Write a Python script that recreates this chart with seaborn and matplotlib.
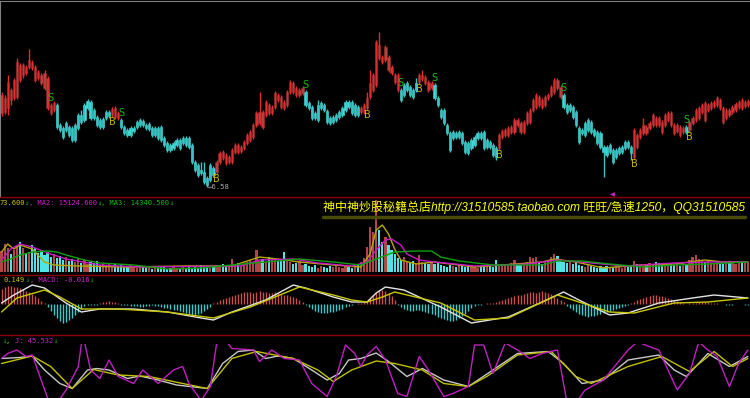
"""
Stock chart: trend-coloured candles with B/S signals, volume, MACD and KDJ panes.
"""
import numpy as np
import matplotlib
matplotlib.use("Agg")
import matplotlib.pyplot as plt
from matplotlib.lines import Line2D
import seaborn as sns

W, H = 750, 398

# prices in fen (1/100 yuan)
opens = [732, 733, 737, 755, 747, 748, 780, 770, 778, 778,
         783, 778, 773, 770, 772, 767, 740, 735, 740, 720,
         717, 715, 718, 717, 705, 717, 730, 725, 737, 743,
         735, 728, 725, 718, 727, 729, 730, 737, 732, 725,
         718, 715, 710, 714, 718, 720, 724, 720, 716, 717,
         710, 717, 718, 707, 702, 700, 697, 700, 705, 702,
         707, 707, 700, 683, 680, 675, 673, 667, 665, 677,
         673, 683, 693, 690, 683, 683, 693, 700, 694, 697,
         702, 705, 708, 720, 722, 733, 730, 740, 732, 738,
         750, 748, 743, 740, 753, 762, 757, 750, 752, 753,
         742, 738, 732, 725, 737, 740, 734, 727, 723, 725,
         728, 730, 735, 743, 743, 730, 738, 733, 733, 737,
         748, 755, 760, 800, 788, 785, 788, 778, 770, 770,
         755, 750, 755, 758, 755, 755, 763, 766, 768, 763,
         757, 760, 747, 735, 735, 720, 712, 707, 712, 708,
         712, 703, 702, 697, 700, 707, 712, 713, 698, 703,
         700, 697, 697, 708, 710, 710, 713, 713, 725, 722,
         713, 722, 723, 735, 738, 748, 745, 740, 747, 750,
         753, 765, 758, 750, 740, 735, 738, 733, 717, 715,
         710, 715, 723, 715, 713, 712, 698, 698, 693, 695,
         688, 692, 693, 697, 703, 698, 688, 710, 708, 712,
         718, 717, 720, 727, 727, 723, 720, 725, 732, 720,
         714, 718, 713, 718, 715, 722, 725, 727, 733, 742,
         735, 737, 739, 740, 745, 737, 727, 735, 733, 735,
         738, 745, 739, 740]
closes = [750, 747, 763, 745, 765, 783, 765, 780, 772, 785,
          777, 765, 767, 762, 757, 737, 732, 742, 718, 715,
          708, 722, 710, 705, 720, 730, 723, 740, 744, 727,
          727, 720, 718, 726, 733, 733, 736, 728, 727, 718,
          712, 710, 717, 717, 723, 725, 720, 717, 721, 710,
          717, 707, 705, 700, 695, 695, 702, 705, 697, 707,
          700, 698, 683, 675, 670, 672, 663, 660, 680, 670,
          683, 692, 687, 682, 688, 695, 700, 693, 698, 703,
          710, 713, 720, 732, 733, 718, 743, 732, 738, 752,
          745, 738, 737, 753, 763, 753, 750, 755, 757, 740,
          737, 727, 727, 740, 742, 735, 723, 722, 728, 730,
          733, 737, 743, 738, 732, 740, 730, 737, 740, 747,
          762, 770, 803, 787, 783, 798, 775, 772, 763, 755,
          745, 760, 762, 750, 748, 762, 770, 770, 762, 755,
          762, 747, 740, 728, 722, 712, 695, 713, 708, 713,
          702, 693, 692, 705, 708, 712, 707, 697, 705, 698,
          690, 688, 710, 714, 715, 717, 718, 725, 720, 713,
          723, 732, 735, 745, 750, 740, 738, 748, 750, 758,
          765, 757, 748, 738, 733, 740, 728, 720, 703, 712,
          722, 725, 713, 710, 702, 698, 693, 690, 700, 683,
          695, 697, 698, 703, 698, 692, 715, 698, 715, 720,
          712, 722, 730, 720, 720, 713, 730, 732, 720, 712,
          720, 710, 717, 713, 723, 727, 735, 737, 740, 725,
          740, 742, 743, 747, 737, 723, 735, 730, 738, 741,
          743, 737, 743, 744]
highs = [753, 750, 770, 757, 767, 787, 782, 782, 780, 796,
         785, 780, 775, 772, 775, 769, 742, 744, 742, 722,
         719, 724, 720, 719, 722, 732, 735, 742, 746, 745,
         737, 730, 727, 728, 735, 735, 738, 739, 734, 727,
         720, 717, 719, 719, 725, 727, 726, 722, 723, 719,
         719, 719, 720, 709, 704, 702, 704, 707, 707, 709,
         709, 709, 702, 685, 682, 683, 683, 669, 682, 679,
         685, 694, 695, 692, 690, 697, 702, 702, 700, 705,
         712, 715, 722, 734, 753, 735, 745, 742, 740, 754,
         752, 750, 745, 755, 765, 764, 759, 757, 759, 755,
         744, 740, 734, 745, 744, 742, 736, 729, 730, 732,
         735, 739, 745, 745, 745, 742, 740, 739, 742, 753,
         775, 772, 805, 813, 790, 800, 790, 780, 772, 772,
         757, 762, 764, 760, 757, 767, 772, 775, 770, 765,
         764, 762, 749, 737, 737, 722, 714, 715, 714, 715,
         714, 705, 704, 707, 710, 714, 714, 715, 707, 705,
         702, 699, 712, 716, 717, 719, 720, 727, 727, 724,
         725, 734, 737, 747, 752, 750, 747, 750, 752, 760,
         767, 767, 760, 752, 742, 742, 740, 735, 719, 717,
         724, 727, 725, 717, 715, 714, 700, 700, 702, 697,
         697, 699, 700, 705, 705, 700, 717, 712, 717, 727,
         720, 724, 732, 729, 729, 725, 732, 734, 734, 722,
         722, 720, 719, 720, 725, 729, 737, 739, 742, 744,
         742, 744, 745, 749, 747, 739, 737, 737, 740, 743,
         745, 747, 745, 746]
lows = [729, 731, 730, 740, 745, 746, 763, 767, 770, 776,
        775, 763, 765, 760, 755, 735, 730, 733, 716, 713,
        706, 713, 708, 703, 703, 715, 721, 723, 735, 725,
        725, 718, 716, 716, 725, 727, 728, 726, 725, 716,
        710, 708, 708, 712, 716, 718, 718, 715, 714, 708,
        708, 705, 703, 698, 693, 693, 695, 698, 695, 700,
        698, 696, 681, 673, 668, 670, 661, 658, 663, 668,
        671, 681, 685, 680, 681, 681, 691, 691, 692, 695,
        700, 703, 706, 718, 720, 716, 728, 730, 730, 736,
        743, 736, 735, 738, 751, 751, 748, 748, 750, 738,
        735, 725, 725, 723, 735, 733, 721, 720, 721, 723,
        726, 728, 733, 736, 730, 728, 728, 731, 731, 735,
        746, 753, 758, 785, 781, 783, 773, 770, 761, 753,
        743, 748, 753, 748, 746, 753, 761, 764, 760, 753,
        755, 745, 738, 726, 720, 710, 693, 705, 706, 706,
        700, 691, 690, 695, 698, 705, 705, 695, 696, 696,
        688, 685, 695, 706, 708, 708, 711, 711, 718, 711,
        711, 720, 721, 733, 736, 738, 736, 738, 745, 748,
        751, 755, 746, 736, 731, 733, 726, 718, 701, 710,
        708, 713, 711, 708, 700, 696, 668, 688, 691, 681,
        686, 690, 691, 695, 696, 685, 686, 696, 706, 710,
        710, 715, 718, 718, 718, 711, 718, 723, 718, 710,
        712, 708, 711, 711, 713, 720, 723, 725, 731, 723,
        733, 735, 737, 738, 735, 721, 725, 728, 731, 733,
        736, 735, 737, 738]

# volume, thousand lots
volume = [21, 28, 24, 18, 22, 26, 30, 24, 18, 20, 27, 24, 19, 22, 17, 20, 15, 18, 14, 16,
          12, 15, 11, 13, 10, 14, 9, 12, 8, 10, 9, 11, 7, 8, 6, 9, 7, 8, 6, 7,
          5, 6, 7, 5, 4, 6, 5, 4, 6, 3, 5, 4, 6, 5, 3, 4, 5, 4, 3, 5,
          4, 6, 3, 5, 4, 7, 5, 6, 4, 5, 7, 6, 8, 5, 6, 13, 7, 9, 6, 8,
          10, 12, 9, 22, 11, 13, 10, 15, 12, 14, 11, 13, 20, 12, 10, 8, 9, 11, 7, 8,
          6, 5, 7, 4, 6, 5, 4, 6, 5, 7, 5, 4, 6, 5, 4, 6, 8,
          10, 14, 25, 45, 40, 72, 42, 30, 35, 27, 22, 18, 14, 12, 15, 10, 9, 11, 8,
          17, 10, 9, 8, 10, 8, 9, 7, 6, 5, 7, 6, 5, 8, 6, 5, 7, 6, 5, 4,
          6, 5, 7, 6, 5, 12, 6, 8, 7, 6, 9, 12, 8, 7, 9, 10, 15, 14, 15, 9,
          8, 10, 11, 15, 18, 16, 12, 10, 9, 11, 8, 10, 7, 6, 5, 7, 6, 5, 4, 6,
          5, 6, 4, 5, 6, 5, 4, 6, 5, 7, 11, 8, 7, 6, 8, 9, 8, 10, 9, 8,
          7, 8, 9, 7, 8, 6, 9, 8, 12, 15, 17, 13, 12, 10, 12, 9, 8, 10, 9, 8,
          10, 11, 9, 8, 10, 9, 11, 10]

# volume moving averages, read at sample bars (bar index, thousand lots)
ma1_idx = [0, 2, 4, 6, 10, 14, 17, 25, 40, 60, 75, 84, 90, 97, 108, 117, 120, 122, 124,
           126, 128, 130, 135, 141, 154, 176, 180, 187, 196, 208, 219, 229, 235, 243]
ma1_val = [20, 28, 23, 27, 23, 10, 7, 6, 5, 6, 6, 15, 13, 10, 7, 5, 18, 42, 47,
           38, 23, 12, 8, 10, 5, 10, 13, 10, 4, 7, 8, 12, 10, 10]
ma2_idx = [0, 3, 6, 10, 16, 21, 32, 45, 78, 84, 95, 103, 114, 119, 122, 125, 127, 130,
           132, 136, 141, 154, 171, 181, 192, 203, 219, 230, 243]
ma2_val = [12, 23, 28, 25, 18, 13, 7, 5, 6, 12, 13, 9, 6, 10, 22, 32, 33, 27,
           18, 12, 10, 6, 8, 12, 9, 6, 9, 10, 10]
ma3_idx = [0, 3, 6, 10, 15, 18, 21, 27, 32, 43, 54, 65, 75, 86, 97, 108, 117, 122, 128,
           135, 140, 143, 149, 160, 176, 181, 189, 198, 209, 219, 230, 243]
ma3_val = [10, 13, 17, 20, 21, 20, 17, 12, 9, 7, 3, 4, 7, 10, 13, 10, 7, 13, 20,
           21, 21, 15, 11, 7, 7, 11, 11, 8, 5, 7, 8, 10]

# MACD histogram per bar, in 1/1000
macd_bar = [375, 425, 450, 450, 425, 425, 400, 375, 325, 300, 250, 200, 150, 75, 25,
            -75, -175, -275, -350, -425, -475, -450, -400, -350, -275, -200, -125, -50,
            -25, -25, -25, -25, 25, 50, 50, 75, 50, 50, 25, -25, -25, -25, -50,
            -50, -50, -75, -75, -50, -50, -25, -50, -50, -75, -100, -100, -125, -150, -150,
            -175, -200, -225, -250, -275, -275, -250, -225, -175, -125, -75,
            25, 50, 100, 125, 150, 175, 200, 225, 250, 275, 300, 300, 300, 275, 300,
            325, 300, 300, 275, 275, 300, 275, 250, 225, 225, 200, 175, 150, 100, 50,
            -25, -75, -125, -175, -200, -225, -225, -225, -200, -200, -175, -150, -125, -75,
            -50, -25, 0, 25, 25, 50, 75, 125, 200,
            275, 350, 350, 325, 275, 200, 100,
            -25, -75, -125, -150, -175, -175, -150, -150, -175, -200, -225, -250, -275,
            -325, -350, -375, -400, -425, -425, -400, -350, -300, -250, -175, -100, -50,
            -25, -25, 0, 25, 25, 25, 50, 75,
            100, 125, 150, 175, 200, 225, 225, 250, 275, 300, 300, 275, 300, 325, 300,
            275, 250, 200, 150, 100, 50,
            -50, -100, -150, -200, -250, -275, -300, -325, -300, -300, -275, -250, -225,
            -200, -175, -150, -125, -100, -75, -50, -25,
            25, 50, 100, 125, 150, 175, 200, 225, 225, 200, 200, 175, 150, 125, 100, 75, 50, 25,
            0, 25, 25, 25, 50, 50, 50, 50, 25, 25, 25, 0, 0, -25, -25, -25, 0, 0, 0, -25, -25]
dif_idx = [0, 4, 10, 14, 21, 26, 32, 43, 54, 65, 69, 75, 86, 95, 99, 108, 114, 119, 122,
           125, 131, 143, 153, 165, 176, 183, 188, 198, 204, 214, 225, 232, 243]
dif_val = [25, 225, 475, 400, 25, -200, -125, -125, -200, -350, -400, -200, 100, 475, 400,
           175, 50, 50, 275, 425, 350, -75, -475, -325, 50, 300, 100, -275, -225, 25,
           150, 225, 150]
dea_idx = [0, 5, 14, 19, 26, 38, 54, 69, 81, 97, 108, 114, 119, 124, 128, 143, 154, 165,
           181, 198, 206, 219, 230, 243]
dea_val = [-200, 150, 350, 175, -125, -125, -200, -350, -75, 425, 225, 100, 50, 175, 300,
           25, -400, -350, 225, -200, -225, 25, 50, 150]

# KDJ, read at sample bars
k_idx = [0, 6, 10, 14, 19, 23, 28, 31, 35, 41, 45, 51, 57, 67, 72, 77, 82, 86, 90, 95,
         101, 106, 110, 113, 117, 122, 126, 132, 137, 144, 152, 160, 168, 178, 183, 189,
         196, 204, 214, 219, 223, 230, 237, 243]
k_val = [79, 81, 84, 56, 29, 19, 56, 59, 56, 39, 44, 36, 26, 19, 69, 93, 96, 79, 84, 79,
         56, 36, 49, 76, 79, 90, 73, 43, 59, 36, 23, 56, 89, 93, 69, 29,
         36, 76, 86, 56, 43, 89, 63, 83]
d_idx = [0, 10, 16, 23, 30, 38, 48, 59, 67, 75, 83, 95, 103, 108, 114, 122, 128, 137,
         144, 152, 158, 168, 179, 187, 192, 204, 215, 224, 232, 238, 243]
d_val = [69, 84, 63, 19, 57, 46, 43, 29, 19, 79, 93, 79, 56, 33, 56, 74, 69, 56,
         29, 23, 43, 86, 93, 43, 29, 63, 83, 53, 93, 63, 79]
j_idx = [0, 2, 5, 8, 10, 15, 17, 21, 25, 26, 27, 29, 32, 35, 38, 43, 46, 51, 56, 59,
         61, 65, 68, 70, 73, 75, 82, 84, 88, 92, 97, 101, 106, 109, 112, 115, 117, 119,
         122, 125, 129, 132, 136, 139, 144, 147, 152, 154, 157, 160, 164, 168, 172, 176,
         181, 184, 187, 190, 196, 204, 207, 214, 217, 220, 224, 227, 230, 233, 237, 240, 243]
j_val = [79, 89, 96, 83, 86, 0, -20, 16, 63, 108, 112, 56, 39, 76, 43, 29, 56, 29, 56, 63,
         29, -5, 23, 108, 115, 99, 96, 73, 96, 79, 76, 29, 3, 43, 106, 89, 63, 86,
         103, 76, 9, 3, 83, 56, 3, 9, 23, 106, 106, 49, 110, 96, 79, 89,
         96, -5, -10, 16, 36, 96, 112, 96, 56, 16, 49, 112, 96, 83, 23, 69, 96]

# trend colouring and B/S signals
trend_starts = [0, 18, 36, 39, 70, 99, 117, 130, 136, 141, 162, 183, 206, 223, 224]
trend_states = ['up', 'dn', 'up', 'dn', 'up', 'dn', 'up', 'dn', 'up', 'dn', 'up', 'dn',
                'up', 'dn', 'up']
sell_idx = [16, 39, 99, 130, 141, 183, 223]
buy_idx = [36, 70, 119, 136, 162, 206, 224]

n = len(opens)
for name, arr in [('closes', closes), ('highs', highs), ('lows', lows),
                  ('volume', volume), ('macd_bar', macd_bar)]:
    if len(arr) != n:
        raise ValueError(f"{name} has {len(arr)} values, expected {n}")

sns.set_style("dark", {"axes.facecolor": "black", "figure.facecolor": "black"})

RED_BODY, RED_EDGE, RED_WICK = '#b04646', '#8a2a2a', '#e02c2c'
CYAN_BODY, CYAN_WICK = '#48dcdc', '#36c4c4'
YEL, MAG, GRN, GREY = '#c8c800', '#d020d0', '#10c010', '#a8a8a8'


def pane(top, bottom):
    ax = fig.add_axes([0, 1 - bottom / H, 1, (bottom - top) / H])
    ax.set_facecolor('black')
    ax.set_xlim(-0.5, n - 0.3)
    ax.set_xticks([])
    ax.set_yticks([])
    for s in ax.spines.values():
        s.set_visible(False)
    return ax


def chain_text(x_px, y_px, pieces, size=5.0, family='DejaVu Sans Mono'):
    renderer = fig.canvas.get_renderer()
    x = x_px
    for s, c in pieces:
        t = fig.text(x / W, 1 - y_px / H, s, color=c, fontsize=size, family=family,
                     ha='left', va='center')
        x += t.get_window_extent(renderer=renderer).width


fig = plt.figure(figsize=(W / 100, H / 100), dpi=100, facecolor='black')

x = np.arange(n)
o = np.array(opens) / 100
c = np.array(closes) / 100
hi = np.array(highs) / 100
lo = np.array(lows) / 100

state = np.empty(n, dtype=object)
for s, st in zip(trend_starts, trend_states):
    state[s:] = st
up = state == 'up'

# ---- price pane ----
ax_p = pane(1, 197)
ax_p.set_ylim(6.48, 8.44)
ax_p.spines['left'].set_visible(True)
ax_p.spines['left'].set_color('#808080')
ax_p.spines['top'].set_visible(True)
ax_p.spines['top'].set_color('#808080')
wick_cols = np.where(up, RED_WICK, CYAN_WICK)
body_cols = np.where(up, RED_BODY, CYAN_BODY)
edge_cols = np.where(up, RED_EDGE, CYAN_BODY)
ax_p.vlines(x, lo, hi, colors=wick_cols, linewidth=1)
ax_p.bar(x, np.maximum(np.abs(c - o), 0.012), bottom=np.minimum(o, c), width=0.72,
         color=body_cols, edgecolor=edge_cols, linewidth=0.4)
for i in sell_idx:
    ax_p.text(i, hi[i], 'S', color='#18b818', fontsize=7, ha='center', va='bottom')
for i in buy_idx:
    ax_p.text(i, lo[i], 'B', color='#c8b400', fontsize=7, ha='center', va='top')
i_low = int(np.argmin(lo))
ax_p.text(i_low + 0.3, lo[i_low], f'\u2190{lo[i_low]:.2f}', color=GREY, fontsize=5.2,
          family='DejaVu Sans Mono', ha='left', va='center')

# ---- volume pane ----
ax_v = pane(198, 272)
ax_v.set_ylim(0, 74)
vol_cols = np.where(c >= o, RED_BODY, '#50e4e4')
ax_v.bar(x, volume, width=0.72, color=vol_cols, linewidth=0)
sns.lineplot(x=ma1_idx, y=ma1_val, ax=ax_v, color='#b8a800', linewidth=1)
sns.lineplot(x=ma2_idx, y=ma2_val, ax=ax_v, color='#c818c8', linewidth=1)
sns.lineplot(x=ma3_idx, y=ma3_val, ax=ax_v, color='#10a010', linewidth=1)
ax_v.text(199, 77.5, '\u25c0', color=MAG, fontsize=4.5, ha='center', va='center',
          clip_on=False)

# ---- MACD pane ----
ax_m = pane(276, 334)
ax_m.set_ylim(-0.75, 0.70)
bars = np.array(macd_bar) / 1000
ax_m.vlines(x, 0, bars, colors=np.where(bars >= 0, '#c85050', '#40c8c8'), linewidth=1)
sns.lineplot(x=dif_idx, y=np.array(dif_val) / 1000, ax=ax_m, color='#e4e4e4', linewidth=1)
sns.lineplot(x=dea_idx, y=np.array(dea_val) / 1000, ax=ax_m, color=YEL, linewidth=1)

# ---- KDJ pane ----
ax_k = pane(344, 398)
ax_k.set_ylim(0, 108)
sns.lineplot(x=k_idx, y=k_val, ax=ax_k, color='#c8c8c8', linewidth=1)
sns.lineplot(x=d_idx, y=d_val, ax=ax_k, color='#c0c000', linewidth=1)
sns.lineplot(x=j_idx, y=j_val, ax=ax_k, color='#c020c0', linewidth=1)

for ax in (ax_p, ax_v, ax_m, ax_k):
    ax.set_xlabel('')
    ax.set_ylabel('')
    ax.set_xlim(-0.5, n - 0.3)

# pane separators
for y_px in (197, 274.5, 335):
    fig.add_artist(Line2D([0, 1], [1 - y_px / H] * 2, color='#900000', linewidth=1,
                          transform=fig.transFigure))

# pane headers
chain_text(-1, 203, [('73.600', YEL), ('\u2193', GRN), (', MA2: 15124.600', MAG),
                     ('\u2193', GRN), (', MA3: 14340.500', GRN), ('\u2193', GRN)])
chain_text(4, 280, [('0.149', YEL), ('\u2193', GRN), (', MACD: -0.016', MAG), ('\u2193', GRN)])
chain_text(2, 341, [('\u2193', GRN), (', ', YEL), ('J: 45.532', MAG), ('\u2193', GRN)])

# shop watermark
fig.add_artist(Line2D([323 / W, 745 / W], [1 - 217.5 / H] * 2, color='#4a4a08',
                      linewidth=2.5, transform=fig.transFigure))
fig.text(323 / W, 1 - 207 / H,
         '神中神炒股秘籍总店http://31510585.taobao.com 旺旺/急速1250，QQ31510585',
         color='#ffff00', fontsize=8.65, style='italic',
         family=['Liberation Sans', 'Noto Sans CJK SC'], ha='left', va='center')

fig.savefig('out.png', dpi=100, facecolor='black')
